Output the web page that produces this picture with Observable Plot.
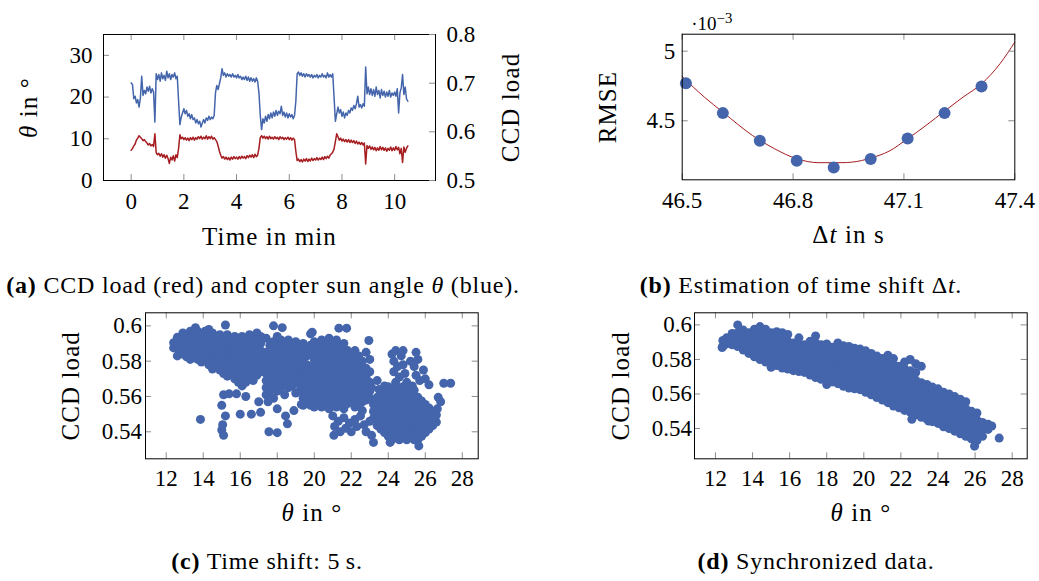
<!DOCTYPE html>
<html><head><meta charset="utf-8">
<script src="https://cdn.jsdelivr.net/npm/d3@7"></script>
<script src="https://cdn.jsdelivr.net/npm/@observablehq/plot@0.6"></script>
<style>
body{margin:0;background:#fff;}
#fig{position:relative;width:1039px;height:581px;overflow:hidden;background:#fff;font-family:'Liberation Serif','Times New Roman',serif;color:#000;}
.cap{position:absolute;white-space:nowrap;font-size:24px;line-height:1;letter-spacing:0.8px;transform:translateX(-50%);}
</style></head><body><div id="fig"></div>
<script>
// ---------- (a) time series ----------
const time = [
0,0.05,0.1,0.15,0.2,0.25,0.3,0.35,0.4,0.45,
0.5,0.55,0.6,0.65,0.7,0.75,0.8,0.85,0.9,0.95,
1,1.05,1.1,1.15,1.2,1.25,1.3,1.35,1.4,1.45,
1.5,1.55,1.6,1.65,1.7,1.75,1.8,1.85,1.9,1.95,
2,2.05,2.1,2.15,2.2,2.25,2.3,2.35,2.4,2.45,
2.5,2.55,2.6,2.65,2.7,2.75,2.8,2.85,2.9,2.95,
3,3.05,3.1,3.15,3.2,3.25,3.3,3.35,3.4,3.45,
3.5,3.55,3.6,3.65,3.7,3.75,3.8,3.85,3.9,3.95,
4,4.05,4.1,4.15,4.2,4.25,4.3,4.35,4.4,4.45,
4.5,4.55,4.6,4.65,4.7,4.75,4.8,4.85,4.9,4.95,
5,5.05,5.1,5.15,5.2,5.25,5.3,5.35,5.4,5.45,
5.5,5.55,5.6,5.65,5.7,5.75,5.8,5.85,5.9,5.95,
6,6.05,6.1,6.15,6.2,6.25,6.3,6.35,6.4,6.45,
6.5,6.55,6.6,6.65,6.7,6.75,6.8,6.85,6.9,6.95,
7,7.05,7.1,7.15,7.2,7.25,7.3,7.35,7.4,7.45,
7.5,7.55,7.6,7.65,7.7,7.75,7.8,7.85,7.9,7.95,
8,8.05,8.1,8.15,8.2,8.25,8.3,8.35,8.4,8.45,
8.5,8.55,8.6,8.65,8.7,8.75,8.8,8.85,8.9,8.95,
9,9.05,9.1,9.15,9.2,9.25,9.3,9.35,9.4,9.45,
9.5,9.55,9.6,9.65,9.7,9.75,9.8,9.85,9.9,9.95,
10,10.05,10.1,10.15,10.2,10.25,10.3,10.35,10.4,10.45,
10.5];
const thetaSeries = [
23.4,23.0,19.6,20.2,18.6,19.4,17.6,19.8,25.0,20.4,
21.6,20.8,22.4,21.4,22.6,21.0,22.0,21.2,14.0,25.6,
24.2,25.4,23.8,25.8,24.4,25.2,24.0,26.2,24.6,25.6,
24.2,25.4,24.8,25.8,24.4,25.0,19.0,13.4,15.2,16.2,
17.2,16.0,16.8,15.4,16.0,14.8,15.8,14.6,15.0,13.8,
14.6,13.6,14.2,12.8,13.8,14.6,13.8,15.0,14.4,15.4,
14.6,15.2,14.8,15.6,21.0,22.8,21.8,23.2,24.6,26.8,
25.2,25.8,24.8,25.6,25.0,25.4,24.8,25.6,24.8,25.2,
24.6,25.4,24.6,25.0,24.2,24.8,24.2,25.0,24.0,24.8,
23.8,24.6,23.8,24.4,23.6,24.6,23.8,21.0,15.6,12.2,
14.8,13.8,15.4,14.2,15.8,14.8,16.2,15.0,16.4,15.4,
16.8,15.6,16.6,16.0,17.8,15.6,16.4,15.2,16.2,15.0,
16.0,15.2,15.8,14.8,15.6,19.0,25.6,26.0,25.2,25.8,
25.0,25.6,24.8,25.6,25.0,25.4,24.8,25.4,24.6,25.2,
24.8,25.4,24.6,25.2,24.8,25.6,24.8,25.2,24.6,25.8,
24.8,25.4,24.8,25.6,20.0,14.2,16.0,17.6,16.2,17.0,
15.4,16.4,15.0,16.2,15.6,16.8,16.2,17.4,16.8,18.0,
17.2,18.4,20.2,17.6,18.2,17.4,18.4,17.8,27.2,20.8,
22.4,20.6,22.0,20.4,21.8,20.2,22.4,20.6,21.6,19.8,
21.8,20.4,21.4,20.0,21.2,20.2,21.6,20.0,21.0,20.4,
21.2,20.2,22.0,16.2,21.0,22.2,25.4,20.6,22.4,19.6,
19.0];
const loadSeries = [
0.562,0.566,0.571,0.575,0.583,0.587,0.592,0.589,0.586,0.582,
0.584,0.580,0.577,0.573,0.576,0.571,0.574,0.570,0.596,0.557,
0.553,0.556,0.550,0.555,0.548,0.553,0.546,0.552,0.545,0.535,
0.548,0.542,0.551,0.540,0.553,0.547,0.566,0.594,0.586,0.589,
0.584,0.588,0.583,0.587,0.582,0.588,0.584,0.589,0.583,0.588,
0.585,0.590,0.586,0.591,0.585,0.589,0.586,0.592,0.585,0.590,
0.586,0.591,0.585,0.588,0.584,0.580,0.571,0.560,0.552,0.546,
0.549,0.544,0.548,0.543,0.547,0.542,0.548,0.544,0.549,0.545,
0.548,0.544,0.549,0.545,0.550,0.546,0.549,0.545,0.551,0.547,
0.552,0.548,0.553,0.547,0.554,0.549,0.552,0.566,0.588,0.592,
0.587,0.591,0.586,0.590,0.585,0.591,0.586,0.589,0.585,0.590,
0.586,0.589,0.584,0.590,0.586,0.589,0.584,0.588,0.585,0.589,
0.584,0.588,0.583,0.587,0.584,0.560,0.541,0.544,0.539,0.543,
0.538,0.544,0.540,0.545,0.539,0.544,0.540,0.546,0.541,0.545,
0.542,0.547,0.542,0.546,0.543,0.548,0.543,0.549,0.545,0.550,
0.546,0.552,0.555,0.558,0.565,0.580,0.596,0.590,0.583,0.587,
0.581,0.585,0.580,0.584,0.579,0.584,0.578,0.583,0.578,0.582,
0.576,0.581,0.575,0.579,0.574,0.578,0.573,0.577,0.534,0.572,
0.566,0.571,0.564,0.569,0.563,0.568,0.561,0.567,0.562,0.570,
0.563,0.568,0.562,0.567,0.560,0.566,0.562,0.569,0.561,0.567,
0.562,0.570,0.563,0.568,0.555,0.566,0.537,0.569,0.558,0.566,
0.571];
const timeTicks = [0, 2, 4, 6, 8, 10];
const thetaTicks = [0, 10, 20, 30];
const loadTicksA = [0.5, 0.6, 0.7, 0.8];

// ---------- (b) RMSE vs time shift ----------
const shiftDt = [46.51, 46.61, 46.71, 46.81, 46.91, 47.01, 47.11, 47.21, 47.31];
const shiftRmse = [4.77, 4.555, 4.356, 4.213, 4.165, 4.225, 4.373, 4.555, 4.746];
const fitDt = [46.5, 46.56, 46.61, 46.69, 46.75, 46.81, 46.87, 46.93, 46.96, 47.01, 47.06, 47.11, 47.16, 47.21, 47.26, 47.31, 47.36, 47.4];
const fitRmse = [4.818, 4.670, 4.562, 4.395, 4.299, 4.227, 4.199, 4.199, 4.203, 4.232, 4.282, 4.371, 4.467, 4.570, 4.670, 4.765, 4.910, 5.065];
const dtTicks = [46.5, 46.8, 47.1, 47.4];
const rmseTicks = [4.5, 5];

// ---------- (c) time shift 5 s: columns [theta, loads...] ----------
const cColumns = [
[12.4,0.5875,0.5905],[12.6,0.583,0.5935],[12.7,0.590,0.586],
[12.9,0.596,0.592,0.588,0.584],[13.1,0.5945,0.5905,0.5865,0.5825],
[13.3,0.597,0.593,0.589,0.585,0.581],[13.5,0.595,0.591,0.587,0.583],
[13.7,0.597,0.593,0.589,0.585,0.581],[13.9,0.595,0.591,0.587,0.583,0.5795],
[14.1,0.597,0.593,0.589,0.585,0.581],[14.3,0.598,0.594,0.590,0.586,0.582,0.578],
[14.5,0.596,0.592,0.588,0.584,0.580,0.5755],[14.7,0.594,0.590,0.586,0.582,0.578],
[14.9,0.595,0.591,0.587,0.583,0.579,0.575],[15.1,0.593,0.589,0.585,0.581,0.577,0.573],
[15.3,0.595,0.591,0.587,0.583,0.579,0.575,0.5715],[15.5,0.593,0.589,0.585,0.581,0.577,0.573],
[15.7,0.594,0.590,0.586,0.582,0.578,0.574,0.570],[15.9,0.592,0.588,0.584,0.580,0.576,0.572,0.568],
[16.1,0.594,0.590,0.586,0.582,0.578,0.574,0.570,0.566],[16.3,0.592,0.588,0.584,0.580,0.576,0.572,0.568],
[16.5,0.595,0.591,0.587,0.583,0.579,0.575,0.571],[16.7,0.593,0.589,0.585,0.581,0.577,0.573,0.569],
[16.9,0.596,0.592,0.588,0.584,0.580,0.576,0.572],[17.1,0.594,0.590,0.586,0.582,0.578,0.574],
[17.4,0.593,0.585,0.581,0.577,0.573,0.569,0.565,0.561],[17.6,0.589,0.583,0.579,0.575,0.571,0.567,0.563],
[17.8,0.591,0.585,0.581,0.577,0.573,0.569,0.565,0.559],[18.0,0.594,0.589,0.583,0.579,0.575,0.571,0.567,0.563],
[18.2,0.592,0.587,0.581,0.577,0.573,0.569,0.565],[18.4,0.590,0.585,0.579,0.575,0.571,0.567,0.561],
[18.6,0.592,0.587,0.583,0.577,0.573,0.569,0.565],[18.8,0.589,0.584,0.580,0.576,0.572,0.566],
[19.0,0.591,0.586,0.582,0.578,0.574,0.570,0.562],[19.2,0.588,0.583,0.579,0.575,0.571,0.567,0.563],
[19.4,0.590,0.585,0.581,0.575,0.571,0.567,0.563,0.559,0.555],[19.6,0.587,0.583,0.578,0.573,0.569,0.565,0.561,0.557],
[19.8,0.5955,0.589,0.584,0.577,0.571,0.567,0.563,0.559,0.555],[20.0,0.591,0.586,0.581,0.575,0.570,0.566,0.562,0.558,0.554],
[20.2,0.588,0.583,0.577,0.572,0.568,0.564,0.560,0.556],[20.4,0.592,0.586,0.580,0.574,0.570,0.566,0.562,0.558,0.554],
[20.6,0.589,0.583,0.577,0.572,0.568,0.564,0.560,0.556],[20.8,0.593,0.587,0.581,0.575,0.570,0.566,0.562,0.558,0.553],
[21.0,0.590,0.585,0.579,0.573,0.568,0.564,0.560,0.556],[21.2,0.592,0.587,0.582,0.576,0.571,0.567,0.563,0.559,0.554],
[21.4,0.588,0.583,0.578,0.573,0.569,0.565,0.561,0.557],[21.6,0.590,0.585,0.580,0.575,0.571,0.567,0.563,0.559,0.553],
[21.8,0.586,0.581,0.576,0.572,0.568,0.564,0.560,0.556],[22.0,0.584,0.578,0.574,0.570,0.566,0.562,0.558],
[22.2,0.586,0.580,0.575,0.571,0.567,0.563,0.559,0.554],[22.4,0.583,0.577,0.572,0.568,0.564,0.560,0.556],
[22.6,0.580,0.574,0.569,0.565,0.561,0.557,0.552],[22.8,0.585,0.576,0.571,0.566,0.562,0.558],
[23.0,0.581,0.574,0.568,0.563,0.559],
[23.2,0.5555,0.5515,0.5475],[23.4,0.5595,0.5555,0.5515,0.5475,0.5435],
[23.6,0.5615,0.5575,0.5535,0.5495,0.5455,0.5415],[23.8,0.5635,0.5595,0.5555,0.5515,0.5475,0.5435,0.5395],
[24.0,0.5655,0.5615,0.5575,0.5535,0.5495,0.5455,0.5415,0.5375],[24.2,0.5635,0.5595,0.5555,0.5515,0.5475,0.5435,0.5395,0.5355],
[24.4,0.5655,0.5615,0.5575,0.5535,0.5495,0.5455,0.5415,0.5375],[24.6,0.5635,0.5595,0.5555,0.5515,0.5475,0.5435,0.5395,0.5355],
[24.8,0.5655,0.5615,0.5575,0.5535,0.5495,0.5455,0.5415,0.5375],[25.0,0.5635,0.5595,0.5555,0.5515,0.5475,0.5435,0.5395,0.5355],
[25.2,0.5615,0.5575,0.5535,0.5495,0.5455,0.5415,0.5375],[25.4,0.5635,0.5595,0.5555,0.5515,0.5475,0.5435,0.5395,0.5355],
[25.6,0.5595,0.5555,0.5515,0.5475,0.5435,0.5395,0.5355],[25.8,0.5575,0.5535,0.5495,0.5455,0.5415,0.5375],
[26.0,0.5555,0.5515,0.5475,0.5435,0.5395],[26.2,0.5535,0.5495,0.5455,0.5415],
[26.4,0.5515,0.5475,0.5435],[26.6,0.5495,0.5455]
];
const cScattered = [
[24.2,0.584],[24.4,0.586],[24.3,0.580],[24.5,0.577],[24.3,0.574],[24.6,0.571],[24.4,0.568],[24.7,0.583],
[24.8,0.578],[24.9,0.573],[25.0,0.568],[24.8,0.586],[25.5,0.585],[25.6,0.581],[25.4,0.577],[25.5,0.572],
[25.7,0.569],[25.3,0.566],[25.9,0.575],[26.0,0.570],[25.2,0.580],[23.8,0.566],[23.4,0.569],[23.1,0.565],
[23.5,0.564],[13.85,0.547],[15.1,0.561],[15.0,0.555],[15.2,0.549],[15.05,0.544],[15.1,0.538],[15.0,0.541],
[15.4,0.5615],[15.8,0.5615],[16.0,0.550],[16.6,0.550],[17.1,0.551],[17.5,0.557],[17.55,0.540],[18.0,0.5395],
[17.8,0.600],[18.27,0.599],[15.2,0.6005],[13.58,0.599],[18.45,0.549],[18.55,0.5445],[18.9,0.552],[19.89,0.5964],
[21.33,0.5987],[21.75,0.5987],[22.95,0.5917],[27.0,0.5675],[27.37,0.5675],[26.2,0.5666],[26.65,0.553],[26.83,0.557],
[26.7,0.5595],[21.0,0.549],[21.3,0.546],[21.6,0.548],[21.9,0.545],[22.2,0.547],[22.5,0.549],[21.1,0.543],
[21.4,0.540],[21.7,0.542],[22.0,0.540],[22.3,0.543],[22.7,0.544],[23.0,0.546],[22.8,0.540],[23.1,0.538],
[21.06,0.538],[23.2,0.534],[24.1,0.534],[25.65,0.532],[16.3,0.560],[17.0,0.557],[18.0,0.553],[19.3,0.5555]
];

// ---------- (d) synchronized: columns [theta, loads...] ----------
const dColumns = [
[12.4,0.5875,0.591],[12.6,0.589,0.5925],[12.9,0.5885,0.5925,0.595],
[13.2,0.5875,0.5915,0.5955,0.600],[13.5,0.5855,0.5895,0.5935,0.597],
[13.8,0.5835,0.5875,0.5915,0.5955],[14.1,0.5815,0.5855,0.5895,0.5935,0.5975],
[14.4,0.580,0.584,0.588,0.592,0.596,0.599],[14.7,0.5785,0.5825,0.5865,0.5905,0.5945,0.5975],
[15.0,0.5755,0.5795,0.5835,0.5875,0.5915,0.5955],[15.3,0.5765,0.5805,0.5845,0.5885,0.5925,0.596],
[15.6,0.575,0.579,0.583,0.587,0.591,0.5955],[15.9,0.5745,0.5785,0.5825,0.5865,0.5905,0.5945],
[16.2,0.5735,0.5775,0.5815,0.5855,0.5895],[16.5,0.573,0.577,0.581,0.585,0.589,0.5925],
[16.8,0.5725,0.5765,0.5805,0.5845,0.5885],[17.1,0.571,0.575,0.579,0.583,0.587,0.5905],
[17.4,0.5695,0.5735,0.5775,0.5815,0.5855,0.5895,0.5936],[17.7,0.5685,0.5725,0.5765,0.5805,0.5845,0.5885],
[18.0,0.5655,0.5695,0.5735,0.5775,0.5815,0.5855,0.589],[18.3,0.567,0.571,0.575,0.579,0.583,0.587],
[18.6,0.566,0.570,0.574,0.578,0.582,0.586,0.5895],[18.9,0.5645,0.5685,0.5725,0.5765,0.5805,0.5845,0.588],
[19.2,0.5635,0.5675,0.5715,0.5755,0.5795,0.5835,0.5875],[19.5,0.563,0.567,0.571,0.575,0.579,0.583,0.5865],
[19.8,0.5625,0.5665,0.5705,0.5745,0.5785,0.5825,0.586],[20.1,0.561,0.565,0.569,0.573,0.577,0.581,0.585],
[20.4,0.5595,0.5635,0.5675,0.5715,0.5755,0.5795,0.5835],[20.7,0.558,0.562,0.566,0.570,0.574,0.578,0.582],
[21.0,0.5565,0.5605,0.5645,0.5685,0.5725,0.5765,0.5805],[21.3,0.555,0.559,0.563,0.567,0.571,0.575,0.579,0.5825],
[21.6,0.553,0.557,0.561,0.565,0.569,0.573,0.577,0.5805],[21.9,0.552,0.556,0.560,0.564,0.568,0.572,0.576],
[22.2,0.5505,0.5545,0.5585,0.5625,0.5665,0.5705,0.5745,0.5785],[22.5,0.5495,0.5535,0.5575,0.5615,0.5655,0.5695,0.5735,0.580],
[22.8,0.548,0.552,0.556,0.560,0.564,0.568,0.5725,0.5775],[23.1,0.5465,0.5505,0.5545,0.5585,0.5625,0.5665,0.576],
[23.4,0.5455,0.5495,0.5535,0.5575,0.5615,0.5655],[23.7,0.544,0.548,0.552,0.556,0.560,0.564],
[24.0,0.543,0.547,0.551,0.555,0.559,0.563],[24.3,0.541,0.545,0.549,0.553,0.557,0.561],
[24.6,0.540,0.544,0.548,0.552,0.556,0.560],[24.9,0.5385,0.5425,0.5465,0.5505,0.5545,0.5585],
[25.2,0.537,0.541,0.545,0.549,0.553,0.557],[25.5,0.5355,0.5395,0.5435,0.5475,0.5515,0.5555],
[25.8,0.534,0.538,0.542,0.546,0.550],[26.1,0.533,0.537,0.541,0.545,0.549],
[26.4,0.5355,0.5395,0.5435],[26.7,0.5395,0.5425],[26.9,0.5415]
];
const dScattered = [[12.36,0.5869],[22.59,0.5454],[25.97,0.5298],[27.3,0.5345],[23.5,0.5444],[24.12,0.5431]];
const angleTicks = [12, 14, 16, 18, 20, 22, 24, 26, 28];
const loadTicks = [0.54, 0.56, 0.58, 0.6];

// ---------- build ----------
const BLUE = "#4465ab", RED = "#a51d21", TICK = "#8c8c8c";
const FONT = "'Liberation Serif','Times New Roman',serif";
const STYLE = {fontFamily: FONT, fontSize: "23px", background: "transparent", overflow: "visible", color: "black"};
const fig = document.getElementById("fig");

const seriesA = time.map((t, i) => ({t, theta: thetaSeries[i], load: loadSeries[i]}));
const rmsePts = shiftDt.map((dt, i) => ({dt, rmse: shiftRmse[i]}));
const fitPts = fitDt.map((dt, i) => ({dt, rmse: fitRmse[i]}));
const toPts = (cols, extra) => [
  ...cols.flatMap(([x, ...ys]) => ys.map(y => ({theta: x, load: y}))),
  ...extra.map(([x, y]) => ({theta: x, load: y}))
];
const cPts = toPts(cColumns, cScattered);
const dPts = toPts(dColumns, dScattered);

function xTickMarks(ticks, ph, sides) {
  const m = [];
  if (sides.includes("b")) m.push(Plot.tickX(ticks, {x: d => d, insetTop: ph - 6, stroke: TICK}));
  if (sides.includes("t")) m.push(Plot.tickX(ticks, {x: d => d, insetBottom: ph - 6, stroke: TICK}));
  return m;
}
function yTickMarks(ticks, pw, sides) {
  const m = [];
  if (sides.includes("l")) m.push(Plot.tickY(ticks, {y: d => d, insetRight: pw - 6, stroke: TICK}));
  if (sides.includes("r")) m.push(Plot.tickY(ticks, {y: d => d, insetLeft: pw - 6, stroke: TICK}));
  return m;
}
function place(svg, left, top) {
  svg.style.position = "absolute";
  svg.style.left = left + "px";
  svg.style.top = top + "px";
  fig.append(svg);
}
const RICH = {
  "θ in °": '<tspan font-style="italic">θ</tspan> in °',
  "Δt in s": 'Δ<tspan font-style="italic">t</tspan> in s',
  "·10-3": '·10<tspan dy="-0.5em" font-size="0.78em">−3</tspan>'
};
const LABELS = new Set(["θ in °", "Δt in s", "Time in min", "CCD load", "RMSE"]);
function rich(svg) {
  svg.querySelectorAll("text").forEach(t => {
    const s = t.textContent;
    if (LABELS.has(s)) t.setAttribute("letter-spacing", "1.1");
    if (RICH[s]) t.innerHTML = RICH[s];
  });
  return svg;
}
const label = (s, o) => Plot.text([s], {text: d => d, fontSize: 25, textAnchor: "middle", ...o});

// Panel (a)
const A = {w: 520, h: 260, ml: 103, mr: 85, mt: 34, mb: 80};
const aPW = A.w - A.ml - A.mr, aPH = A.h - A.mt - A.mb;
const dimsA = {width: A.w, height: A.h, marginLeft: A.ml, marginRight: A.mr, marginTop: A.mt, marginBottom: A.mb, style: STYLE};
const a1 = Plot.plot({
  ...dimsA,
  x: {domain: [-1.05, 11.55]},
  y: {domain: [0, 35]},
  marks: [
    Plot.lineY(seriesA, {x: "t", y: "theta", stroke: BLUE, strokeWidth: 1.5}),
    ...xTickMarks(timeTicks, aPH, "tb"),
    ...yTickMarks(thetaTicks, aPW, "l"),
    Plot.axisX({ticks: timeTicks, tickSize: 0, tickPadding: 12, tickFormat: String, label: null}),
    Plot.axisY({ticks: thetaTicks, tickSize: 0, tickPadding: 11, tickFormat: String, label: null}),
    label("Time in min", {frameAnchor: "bottom", lineAnchor: "bottom", dy: 64}),
    label("θ in °", {frameAnchor: "left", rotate: -90, lineAnchor: "middle", dx: -75}),
    Plot.frame({stroke: "black"})
  ]
});
const a2 = Plot.plot({
  ...dimsA,
  x: {domain: [-1.05, 11.55], axis: null},
  y: {domain: [0.5, 0.8]},
  marks: [
    Plot.lineY(seriesA, {x: "t", y: "load", stroke: RED, strokeWidth: 1.5}),
    ...yTickMarks(loadTicksA, aPW, "r"),
    Plot.axisY({anchor: "right", ticks: loadTicksA, tickSize: 0, tickPadding: 11, tickFormat: String, label: null}),
    label("CCD load", {frameAnchor: "right", rotate: -90, lineAnchor: "middle", dx: 75})
  ]
});
place(rich(a1), 0, 0);
place(rich(a2), 0, 0);

// Panel (b)
const B = {w: 519, h: 260, ml: 161.7, mr: 24.7, mt: 33.7, mb: 80.7};
const bPW = B.w - B.ml - B.mr, bPH = B.h - B.mt - B.mb;
const b = Plot.plot({
  width: B.w, height: B.h, marginLeft: B.ml, marginRight: B.mr, marginTop: B.mt, marginBottom: B.mb, style: STYLE,
  x: {domain: [46.5, 47.4]},
  y: {domain: [4.076, 5.122]},
  marks: [
    Plot.line(fitPts, {x: "dt", y: "rmse", stroke: RED, strokeWidth: 1, curve: "monotone-x"}),
    Plot.dot(rmsePts, {x: "dt", y: "rmse", r: 6, fill: BLUE}),
    ...xTickMarks(dtTicks, bPH, "tb"),
    ...yTickMarks(rmseTicks, bPW, "lr"),
    Plot.axisX({ticks: dtTicks, tickSize: 0, tickPadding: 12, tickFormat: String, label: null}),
    Plot.axisY({ticks: rmseTicks, tickSize: 0, tickPadding: 7, tickFormat: String, label: null}),
    label("Δt in s", {frameAnchor: "bottom", lineAnchor: "bottom", dy: 63}),
    label("RMSE", {frameAnchor: "left", rotate: -90, lineAnchor: "middle", dx: -74}),
    Plot.text(["·10-3"], {text: d => d, frameAnchor: "top-left", textAnchor: "start", lineAnchor: "bottom", dx: 9, dy: -4, fontSize: 19}),
    Plot.frame({stroke: "black"})
  ]
});
place(rich(b), 520, 0);

// Panels (c), (d)
function scatter(pts, dims, xDomain, yDomain, yPad, ylDx) {
  const pw = dims.w - dims.ml - dims.mr, ph = dims.h - dims.mt - dims.mb;
  return rich(Plot.plot({
    width: dims.w, height: dims.h, marginLeft: dims.ml, marginRight: dims.mr, marginTop: dims.mt, marginBottom: dims.mb, style: STYLE,
    x: {domain: xDomain},
    y: {domain: yDomain},
    marks: [
      Plot.dot(pts, {x: "theta", y: "load", r: 4.5, fill: BLUE}),
      ...xTickMarks(angleTicks, ph, "tb"),
      ...yTickMarks(loadTicks, pw, "lr"),
      Plot.axisX({ticks: angleTicks, tickSize: 0, tickPadding: 11, tickFormat: String, label: null}),
      Plot.axisY({ticks: loadTicks, tickSize: 0, tickPadding: yPad, tickFormat: String, label: null}),
      label("θ in °", {frameAnchor: "bottom", lineAnchor: "bottom", dy: 62}),
      label("CCD load", {frameAnchor: "left", rotate: -90, lineAnchor: "middle", dx: ylDx}),
      Plot.frame({stroke: "black"})
    ]
  }));
}
place(scatter(cPts, {w: 520, h: 281, ml: 145, mr: 42.3, mt: 12.3, mb: 122.7}, [10.88, 28.86], [0.5247, 0.6074], 3.5, -75), 0, 300);
place(scatter(dPts, {w: 519, h: 281, ml: 174, mr: 12.3, mt: 12.3, mb: 122.7}, [10.87, 28.81], [0.5225, 0.607], 2.5, -74), 520, 300);

// Captions
const captions = [
  {html: '<b>(a)</b> CCD load (red) and copter sun angle <i>θ</i> (blue).', x: 263, y: 273},
  {html: '<b>(b)</b> Estimation of time shift Δ<i>t</i>.', x: 801, y: 273},
  {html: '<b>(c)</b> Time shift: 5&#8201;s.', x: 267, y: 549},
  {html: '<b>(d)</b> Synchronized data.', x: 816, y: 549}
];
for (const c of captions) {
  const d = document.createElement("div");
  d.className = "cap";
  d.innerHTML = c.html;
  d.style.left = c.x + "px";
  d.style.top = c.y + "px";
  fig.append(d);
}
</script></body></html>
